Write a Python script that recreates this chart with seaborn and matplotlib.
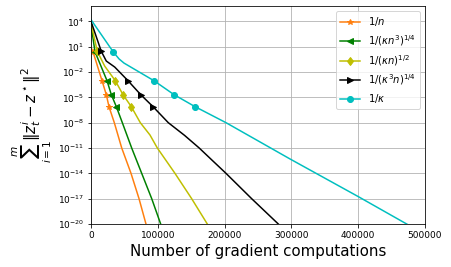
import numpy as np
import pandas as pd
import matplotlib
matplotlib.use("Agg")
import matplotlib.pyplot as plt
import seaborn as sns
from matplotlib.ticker import NullLocator

# ---- data (x in gradient computations, y as log10 of the error) ----
x_n = [0, 3000, 16500, 22900, 26900, 34900, 46000, 59900, 71900, 82300, 85000]
e_n = [0.9, 0.4, -3.03, -4.68, -6.1, -8, -11, -14, -17, -20, -20.7]
m_n = [1, 2, 3, 4]

x_kn3 = [0, 6000, 24000, 30400, 37900, 46900, 60900, 75900, 90900, 104300, 107000]
e_kn3 = [3.6, 0.4, -3.03, -4.68, -6.1, -8, -11, -14, -17, -20, -20.6]
m_kn3 = [1, 2, 3, 4]

x_kn = [0, 9400, 20500, 36400, 47900, 60300, 73800, 88300, 99300, 125700, 150700, 174100, 177000]
e_kn = [3.8, 0.45, -1.3, -3.03, -4.68, -6.1, -8, -9.46, -11, -14, -17, -20, -20.4]
m_kn = [1, 3, 4, 5]

x_k3n = [0, 15400, 22900, 35500, 55400, 74400, 92800, 115700, 140000, 162000, 182000, 202100, 240500, 280400, 283000]
e_k3n = [4.0, 0.45, -0.7, -1.41, -3.03, -4.68, -6.1, -8, -9.5, -11, -12.5, -14, -17, -20, -20.2]
m_k3n = [1, 4, 5, 6]

x_k = [0, 33400, 42000, 49400, 94300, 124300, 155700, 202100, 298000, 400200, 472600, 476000]
e_k = [4.2, 0.37, -0.45, -0.94, -3.03, -4.68, -6.1, -8, -12.3, -16.76, -20, -20.15]
m_k = [1, 4, 5, 6]

labels = [r"$1/n$", r"$1/(\kappa n^3)^{1/4}$", r"$1/(\kappa n)^{1/2}$",
          r"$1/(\kappa^3 n)^{1/4}$", r"$1/\kappa$"]
colors = ["C1", "g", "y", "k", "c"]
markers = ["*", "<", "d", ">", "o"]

series = [(x_n, e_n, m_n), (x_kn3, e_kn3, m_kn3), (x_kn, e_kn, m_kn),
          (x_k3n, e_k3n, m_k3n), (x_k, e_k, m_k)]

ytick_exps = [-20, -17, -14, -11, -8, -5, -2, 1, 4]
xticks = [0, 100000, 200000, 300000, 400000, 500000]

# ---- figure ----
fig = plt.figure(figsize=(451 / 72, 267 / 72), dpi=72)
ax = fig.add_axes([91 / 451, 43 / 267, 334 / 451, 218 / 267])

for (xs, es, mk), lab, col, mar in zip(series, labels, colors, markers):
    df = pd.DataFrame({"x": xs, "y": 10.0 ** np.array(es)})
    sns.lineplot(data=df, x="x", y="y", ax=ax, color=col, marker=mar,
                 markevery=mk, label=lab, linewidth=1.5, markersize=6,
                 markeredgewidth=1, markeredgecolor=col, estimator=None, sort=False)

ax.set_yscale("log")
ax.set_xlim(0, 500000)
ax.set_ylim(1e-20, 10 ** 5.82)
ax.set_yticks([10.0 ** e for e in ytick_exps])
ax.yaxis.set_minor_locator(NullLocator())
ax.set_xticks(xticks)
ax.tick_params(labelsize=9)
ax.grid(True, color="#b0b0b0", linewidth=0.8)
ax.set_xlabel("Number of gradient computations", fontsize=15)
ax.set_ylabel(r"$\sum_{i=1}^{m}\|z_t^i - z^\star\|^2$", fontsize=15)
ax.legend(loc="upper right", fontsize=10)

fig.savefig("out.png", dpi=72)
